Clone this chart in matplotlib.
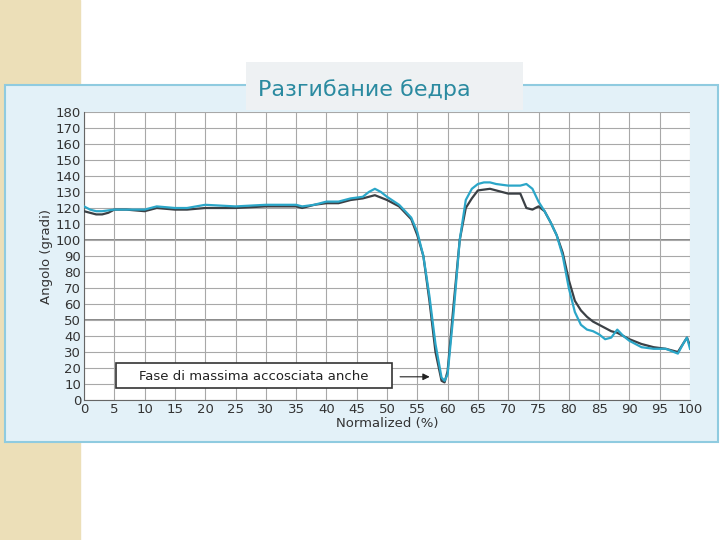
import matplotlib
matplotlib.use("Agg")
import matplotlib.pyplot as plt
from matplotlib.patches import Rectangle

dark_x = [0,1,2,3,4,5,7,10,12,15,17,20,25,30,35,36,38,40,42,44,46,48,50,52,54,55,56,57,58,59,59.5,60,61,62,63,64,65,67,69,70,72,73,74,75,76,77,78,79,80,81,82,83,84,85,86,87,88,89,90,92,94,96,98,99,99.5,100]
dark_y = [118,117,116,116,117,119,119,118,120,119,119,120,120,121,121,120,122,123,123,125,126,128,125,121,113,103,90,62,30,12,11,18,60,100,120,126,131,132,130,129,129,120,119,121,118,111,103,92,75,62,56,52,49,47,45,43,42,40,38,35,33,32,30,36,39,34]
cyan_x = [0,1,2,3,5,10,12,15,17,20,25,30,35,36,38,40,42,44,46,47,48,49,50,52,54,55,56,57,58,59,59.5,60,61,62,63,64,65,66,67,68,70,72,73,74,75,76,77,78,79,80,81,82,83,84,85,86,87,88,89,90,92,94,96,98,99,99.5,100]
cyan_y = [121,119,118,118,119,119,121,120,120,122,121,122,122,121,122,124,124,126,127,130,132,130,127,122,114,105,90,65,35,14,12,16,55,100,125,132,135,136,136,135,134,134,135,132,124,118,111,103,90,70,55,47,44,43,41,38,39,44,40,37,33,32,32,29,36,39,32]
x_ticks = list(range(0, 101, 5))
y_ticks = list(range(0, 181, 10))
title = "Разгибание бедра"
note = "Fase di massima accosciata anche"

fig = plt.figure(figsize=(7.2, 5.4), dpi=100)
fig.patch.set_facecolor("white")
# decorative left strip
fig.patches.append(Rectangle((0, 0), 80/720, 1, transform=fig.transFigure, color="#ecdfb8", zorder=0))
# panel
fig.patches.append(Rectangle((5/720, 1-442/540), 713/720, 357/540, transform=fig.transFigure,
                             facecolor="#e3f1f8", edgecolor="#8fcbe0", lw=1.5, zorder=1))
# title box
fig.patches.append(Rectangle((246/720, 1-110/540), 277/720, 48/540, transform=fig.transFigure,
                             facecolor="#eef1f3", edgecolor="none", zorder=2))
fig.text(258/720, 1-90/540, title, fontsize=16, color="#2a8aa0", va="center", ha="left",
         family="DejaVu Sans", zorder=3)

ax = fig.add_axes([84/720, 1-400/540, 606/720, 288/540], zorder=4)
ax.set_facecolor("white")
ax.set_xlim(0, 100)
ax.set_ylim(0, 180)
ax.set_xticks(x_ticks)
ax.set_yticks(y_ticks)
ax.tick_params(labelsize=9.5, colors="#333333", length=0, pad=2)
ax.grid(True, color="#a8a8a8", lw=0.8)
for v in (100, 50):
    ax.axhline(v, color="#888888", lw=1.4, zorder=0.5)
ax.set_axisbelow(True)
for s in ax.spines.values():
    s.set_visible(False)
ax.spines["left"].set_visible(True)
ax.spines["bottom"].set_visible(True)
ax.spines["left"].set_color("#666666")
ax.spines["bottom"].set_color("#666666")
ax.plot(dark_x, dark_y, color="#3b4045", lw=1.6, zorder=3)
ax.plot(cyan_x, cyan_y, color="#2ba6c8", lw=1.6, zorder=3)
ax.add_patch(Rectangle((5.3, 7.5), 45.6, 15.5, facecolor="white", edgecolor="#333333", lw=1.2, zorder=5))
ax.text(28, 15, note, ha="center", va="center", fontsize=9.5, color="#222222", zorder=6)
ax.annotate("", xy=(57.5, 14.5), xytext=(51.7, 14.5),
            arrowprops=dict(arrowstyle="-|>", color="#222222", lw=0.8), zorder=6)
ax.set_xlabel("Normalized (%)", fontsize=9.5, color="#333333", labelpad=1)
ax.set_ylabel("Angolo (gradi)", fontsize=9.5, color="#333333", labelpad=2)

fig.savefig("out.png", dpi=100, facecolor=fig.get_facecolor())
